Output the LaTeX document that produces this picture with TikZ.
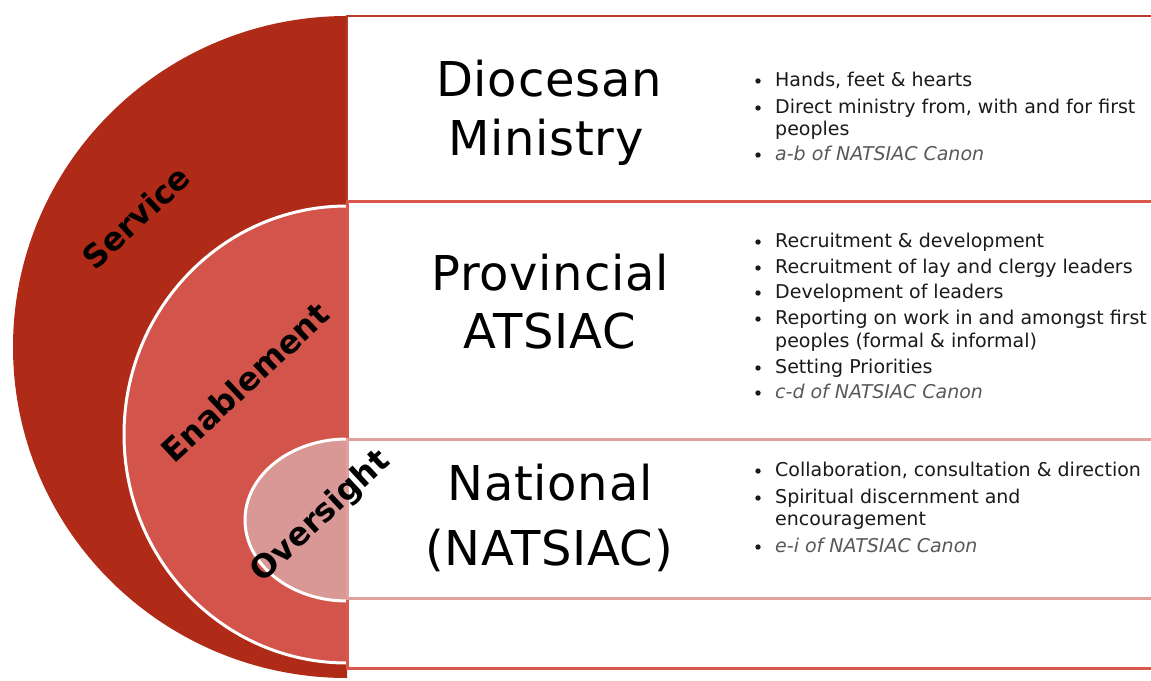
\documentclass[tikz,border=0pt]{standalone}
\usepackage{fontspec}
\setmainfont{DejaVu Sans}
\newfontfamily\titlefont[LetterSpace=1.5]{DejaVu Sans}
\definecolor{darkred}{HTML}{B02A18}
\definecolor{midred}{HTML}{D3544A}
\definecolor{pinkred}{HTML}{D99896}
\definecolor{lineDark}{HTML}{BB3A2E}
\definecolor{lineMid}{HTML}{D9574D}
\definecolor{linePink}{HTML}{DFA09E}
\definecolor{textgray}{HTML}{1A1A1A}
\definecolor{refgray}{HTML}{595959}
\begin{document}
\begin{tikzpicture}[x=1pt,y=-1pt,
  title/.style={anchor=base, font=\titlefont\fontsize{48}{58}\selectfont, text=black, inner sep=0pt},
  item/.style={anchor=base west, font=\fontsize{19}{22}\selectfont, text=textgray, inner sep=0pt},
  canon/.style={item, font=\fontsize{19}{22}\selectfont\itshape, text=refgray},
  dot/.style={circle, fill=textgray, inner sep=0pt, minimum size=5.4pt},
  ring/.style={font=\fontsize{32}{38}\selectfont\bfseries, text=black, rotate=43, inner sep=0pt},
  band/.style={line width=3pt},
]
\useasboundingbox (0,0) rectangle (1151,680);
\fill[white] (0,0) rectangle (1151,680);

% nested half discs on the left
\begin{scope}
  \clip (0,0) rectangle (347,680);
  \fill[darkred] (347,347) ellipse [x radius=334, y radius=331];
  \filldraw[fill=midred, draw=white, line width=3pt] (347,434.5) ellipse [x radius=223, y radius=228.5];
  \filldraw[fill=pinkred, draw=white, line width=3pt] (347,520) ellipse [x radius=102, y radius=81];
\end{scope}

% bands on the right
\draw[band, draw=lineDark, line width=2.6pt] (347,201) -- (347,16) -- (1170,16);
\draw[band, draw=lineMid] (1170,201) -- (347,201) -- (347,668) -- (1170,668);
\draw[band, draw=linePink] (1170,439) -- (347,439) -- (347,598) -- (1170,598);

% ring labels
\node[ring] (service) at (136,217) {Service};
\node[ring] (enable) at (245,382) {Enablement};
\node[ring] (oversight) at (321,517) {Oversight};

% level titles
\node[title] (dioA) at (549,96) {Diocesan};
\node[title] (dioB) at (546,155) {Ministry};
\node[title] (proA) at (550,290) {Provincial};
\node[title] (proB) at (550,348) {ATSIAC};
\node[title] (natA) at (550,500) {National};
\node[title] (natB) at (549,565) {(NATSIAC)};

% diocesan items
\node[dot] (b1) at (758,81) {};
\node[item] (d1) at (775,86) {Hands, feet \& hearts};
\node[dot] (b2) at (758,108) {};
\node[item] (d2) at (775,113) {Direct ministry from, with and for first};
\node[item] (d2b) at (775,135) {peoples};
\node[dot] (b3) at (758,155) {};
\node[canon] (d3) at (775,160) {a-b of NATSIAC Canon};

% provincial items
\node[dot] (b4) at (758,242) {};
\node[item] (p1) at (775,247) {Recruitment \& development};
\node[dot] (b5) at (758,268) {};
\node[item] (p2) at (775,273) {Recruitment of lay and clergy leaders};
\node[dot] (b6) at (758,293) {};
\node[item] (p3) at (775,298) {Development of leaders};
\node[dot] (b7) at (758,319) {};
\node[item] (p4) at (775,324) {Reporting on work in and amongst first};
\node[item] (p4b) at (775,347) {peoples (formal \& informal)};
\node[dot] (b8) at (758,368) {};
\node[item] (p5) at (775,373) {Setting Priorities};
\node[dot] (b9) at (758,393) {};
\node[canon] (p6) at (775,398) {c-d of NATSIAC Canon};

% national items
\node[dot] (b10) at (758,471) {};
\node[item] (n1) at (775,476) {Collaboration, consultation \& direction};
\node[dot] (b11) at (758,498) {};
\node[item] (n2) at (775,503) {Spiritual discernment and};
\node[item] (n2b) at (775,525) {encouragement};
\node[dot] (b12) at (758,547) {};
\node[canon] (n3) at (775,552) {e-i of NATSIAC Canon};
\end{tikzpicture}
\end{document}
